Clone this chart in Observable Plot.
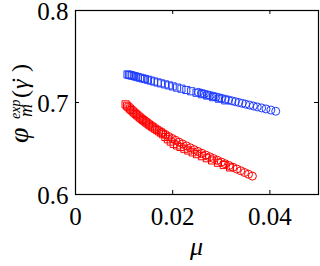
<!DOCTYPE html>
<html>
<head>
<meta charset="utf-8">
<script src="https://cdn.jsdelivr.net/npm/d3@7"></script>
<script src="https://cdn.jsdelivr.net/npm/@observablehq/plot@0.6"></script>
<style>
  html, body { margin: 0; padding: 0; background: #fff; }
  svg { display: block; }
  #wrap { position: relative; width: 320px; height: 266px; }
  #xlabel { position: absolute; left: 75px; width: 243px; top: 232px; text-align: center;
            font-family: "Liberation Serif", "DejaVu Serif", serif; font-style: italic; font-size: 26px; line-height: 30px; color: #000; }
</style>
</head>
<body>
<div id="wrap">
  <div id="chart"></div>
  <div id="xlabel">μ</div>
</div>
<script>
// Tick values
const xTicks = [0, 0.02, 0.04];
const yTicks = [0.6, 0.7, 0.8];

// Blue squares
const blueSqX = [0.0107,0.0110,0.0113,0.0116,0.0120,0.0124,0.0128,0.0133,0.0138,0.0143,0.0149,0.0155,0.0162,0.0169,0.0176,0.0184,0.0192,0.0200,0.0209,0.0218,0.0228,0.0238,0.0249,0.0260,0.0271,0.0283,0.0295,0.0308];
const blueSqY = [0.7305,0.7301,0.7297,0.7293,0.7288,0.7282,0.7276,0.7269,0.7262,0.7255,0.7247,0.7238,0.7228,0.7218,0.7208,0.7197,0.7186,0.7175,0.7162,0.7150,0.7136,0.7122,0.7106,0.7090,0.7075,0.7058,0.7041,0.7023];

// Blue circles
const blueCiX = [0.0253,0.0259,0.0265,0.0271,0.0277,0.0283,0.0289,0.0295,0.0301,0.0308,0.0315,0.0322,0.0329,0.0336,0.0343,0.0350,0.0358,0.0366,0.0374,0.0383,0.0392,0.0402,0.0412];
const blueCiY = [0.7110,0.7101,0.7093,0.7085,0.7077,0.7069,0.7061,0.7053,0.7045,0.7036,0.7027,0.7018,0.7009,0.7000,0.6991,0.6982,0.6972,0.6962,0.6952,0.6941,0.6930,0.6918,0.6905];

// Red squares
const redSqX = [0.0103,0.0106,0.0109,0.0112,0.0115,0.0118,0.0121,0.0124,0.0127,0.0130,0.0133,0.0136,0.0139,0.0142,0.0145,0.0148,0.0151,0.0154,0.0157,0.0160,0.0164,0.0168,0.0172,0.0176,0.0180,0.0185,0.0190,0.0196,0.0202,0.0209,0.0216,0.0224,0.0232,0.0241,0.0250,0.0260,0.0270,0.0281,0.0293,0.0305,0.0318];
const redSqY = [0.6980,0.6964,0.6948,0.6933,0.6918,0.6903,0.6889,0.6875,0.6861,0.6848,0.6835,0.6822,0.6809,0.6797,0.6785,0.6773,0.6761,0.6750,0.6739,0.6728,0.6714,0.6700,0.6686,0.6672,0.6655,0.6625,0.6600,0.6575,0.6550,0.6533,0.6516,0.6497,0.6478,0.6458,0.6438,0.6416,0.6394,0.6370,0.6345,0.6320,0.6294];

// Red circles
const redCiX = [0.0178,0.0185,0.0192,0.0199,0.0206,0.0213,0.0220,0.0228,0.0236,0.0244,0.0252,0.0260,0.0268,0.0276,0.0284,0.0292,0.0300,0.0308,0.0316,0.0324,0.0332,0.0340,0.0348,0.0356,0.0364];
const redCiY = [0.6675,0.6652,0.6630,0.6609,0.6589,0.6569,0.6550,0.6529,0.6508,0.6488,0.6468,0.6448,0.6429,0.6410,0.6391,0.6372,0.6353,0.6334,0.6315,0.6296,0.6277,0.6258,0.6239,0.6220,0.6200];

const zip = (xs, ys) => xs.map((x, i) => ({x, y: ys[i]}));
const BLUE = "#1f3cff";
const RED = "#ff0000";
const FONT = "Liberation Serif, DejaVu Serif, serif";

const W = 320, H = 234, ML = 75, MR = 2, MT = 10, MB = 40;
const fw = W - ML - MR, fh = H - MT - MB;
const tl = 4;
const fmt = d => d === 0 ? "0" : String(d);

const plot = Plot.plot({
  width: W, height: H,
  marginLeft: ML, marginRight: MR, marginTop: MT, marginBottom: MB,
  style: {fontFamily: FONT, fontSize: "25px", background: "#fff", color: "#000"},
  x: {domain: [0, 0.05], axis: null},
  y: {domain: [0.6, 0.8], axis: null},
  marks: [
    Plot.axisX(xTicks, {tickSize: 0, tickPadding: 13, label: null, fontSize: 25, fontFamily: FONT, tickFormat: fmt, fill: "#000"}),
    Plot.axisY(yTicks, {tickSize: 0, tickPadding: 7, label: null, fontSize: 25, fontFamily: FONT, tickFormat: fmt, fill: "#000", dy: 1}),
    Plot.dot(zip(blueSqX, blueSqY), {x: "x", y: "y", symbol: "square", r: 4, stroke: BLUE, strokeWidth: 1, fill: "none"}),
    Plot.dot(zip(blueCiX, blueCiY), {x: "x", y: "y", symbol: "circle", r: 4, stroke: BLUE, strokeWidth: 1, fill: "none"}),
    Plot.dot(zip(redSqX, redSqY), {x: "x", y: "y", symbol: "square", r: 4, stroke: RED, strokeWidth: 1, fill: "none"}),
    Plot.dot(zip(redCiX, redCiY), {x: "x", y: "y", symbol: "circle", r: 4, stroke: RED, strokeWidth: 1, fill: "none"}),
    Plot.tickX(xTicks, {x: d => d, insetTop: fh - tl, stroke: "#000"}),
    Plot.tickX(xTicks, {x: d => d, insetBottom: fh - tl, stroke: "#000"}),
    Plot.tickY(yTicks, {y: d => d, insetRight: fw - tl, stroke: "#000"}),
    Plot.tickY(yTicks, {y: d => d, insetLeft: fw - tl, stroke: "#000"}),
    Plot.frame({stroke: "#000", strokeWidth: 1.2})
  ]
});

const svg = d3.select(plot);
svg.attr("font-family", FONT);

// y label: φ_m^{exp}(γ̇)
const g = svg.append("g").attr("transform", "translate(28,143) rotate(-90)")
  .attr("fill", "#000").attr("text-anchor", "start").attr("font-family", FONT);
const t = (x, y, size, italic, s, anchor) => g.append("text").attr("x", x).attr("y", y)
  .attr("font-family", FONT).attr("font-size", size)
  .attr("font-style", italic ? "italic" : "normal")
  .attr("text-anchor", anchor || "start").text(s);
t(0, 0, 28, true, "φ");
t(24, -8, 14, true, "exp");
t(26, 4, 18, true, "m");
t(45, 0, 24, false, "(");
t(54, 0, 24, true, "γ");
t(63, 0, 24, false, "˙", "middle");
t(71, 0, 24, false, ")");

document.getElementById("chart").appendChild(plot);
</script>
</body>
</html>
